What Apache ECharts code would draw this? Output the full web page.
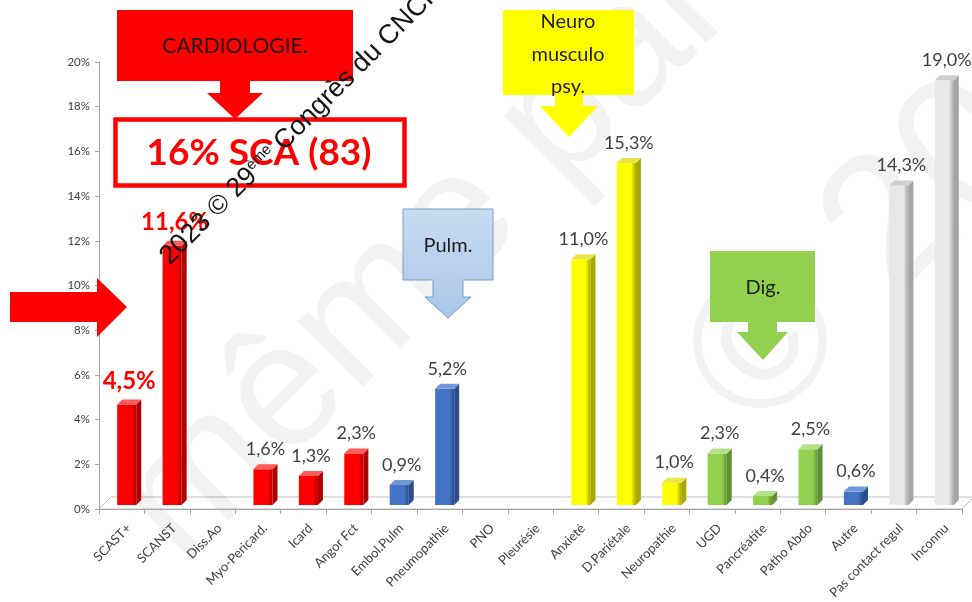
<!DOCTYPE html>
<html>
<head>
<meta charset="utf-8">
<title>Répartition des diagnostics</title>
<script src="https://cdn.jsdelivr.net/npm/echarts@6/dist/echarts.min.js"></script>
<style>
  html, body { margin: 0; padding: 0; background: #ffffff; }
  #chart { width: 972px; height: 602px; }
</style>
</head>
<body>
<div id="chart"></div>
<script>
// Diagnostic categories and their share of cases (%)
const categories = ['SCAST+', 'SCANST', 'Diss.Ao', 'Myo-Pericard.', 'Icard', 'Angor Fct',
  'Embol.Pulm', 'Pneumopathie', 'PNO', 'Pleurésie', 'Anxieté', 'D.Pariétale', 'Neuropathie',
  'UGD', 'Pancréatite', 'Patho Abdo', 'Autre', 'Pas contact regul', 'Inconnu'];
const values = [4.5, 11.6, 0, 1.6, 1.3, 2.3, 0.9, 5.2, 0, 0, 11.0, 15.3, 1.0, 2.3, 0.4, 2.5, 0.6, 14.3, 19.0];
// Specialty group of each category (drives the bar colour)
const groups = ['cardio', 'cardio', 'cardio', 'cardio', 'cardio', 'cardio',
  'pulm', 'pulm', 'pulm', 'pulm', 'neuro', 'neuro', 'neuro',
  'dig', 'dig', 'dig', 'pulm', 'autre', 'autre'];
// Categories whose value label is emphasised
const emphasised = ['SCAST+', 'SCANST'];
// Value axis ticks (%)
const yMin = 0, yMax = 20, yStep = 2;

const palette = {
  cardio: { face: '#ff0000', side: '#b30000', top: '#ff5a5a' },
  pulm:   { face: '#4472c4', side: '#2b4d8c', top: '#7396d6' },
  neuro:  { face: '#ffff00', side: '#a8a800', top: '#e6e64a' },
  dig:    { face: '#92d050', side: '#5f9132', top: '#b5e08a' },
  autre:  { face: '#e8e8e8', side: '#a3a3a3', top: '#cfcfcf' }
};

const grid = { left: 99, right: 10, top: 62, bottom: 93 };
const W = 972, H = 602;
const floorDepth = 12;          // perspective depth of the floor
const barDepth = 5, barLift = 4; // perspective depth of each column

const fmt = v => v.toFixed(1).replace('.', ',') + '%';
const FONT = 'Lato, "Open Sans", sans-serif';
const SANS = '"Liberation Sans", Arial, sans-serif';

const chart = echarts.init(document.getElementById('chart'), null, { renderer: 'canvas' });

function renderColumn(params, api) {
  const i = api.value(0);
  const v = api.value(1);
  if (!v) return null;
  const base = api.coord([i, 0]);
  const top = api.coord([i, v]);
  const band = api.size([1, 0])[0];
  const w = band * 0.42;
  const cx = base[0] + band * 0.11;
  const x0 = cx - w / 2, x1 = cx + w / 2;
  const yb = base[1] - barLift, yt = top[1] - barLift;
  const d = barDepth;
  const col = palette[groups[i]];
  const strong = emphasised.indexOf(categories[i]) >= 0;
  return {
    type: 'group',
    children: [
      { type: 'polygon', shape: { points: [[x1, yt], [x1 + d, yt - d], [x1 + d, yb - d], [x1, yb]] },
        style: { fill: col.side } },
      { type: 'rect', shape: { x: x0, y: yt, width: w, height: yb - yt },
        style: { fill: new echarts.graphic.LinearGradient(0, 0, 1, 0, [
          { offset: 0, color: col.face }, { offset: 0.75, color: col.face }, { offset: 1, color: col.side }]) } },
      { type: 'polygon', shape: { points: [[x0, yt], [x0 + d, yt - d], [x1 + d, yt - d], [x1, yt]] },
        style: { fill: col.top } },
      { type: 'text', x: cx + d / 2, y: yt - d - 6,
        style: {
          text: fmt(v), textAlign: 'center', textVerticalAlign: 'bottom',
          fill: strong ? '#ff0000' : '#404040',
          font: (strong ? 'bold 24px ' : '18px ') + FONT
        } }
    ]
  };
}

// Perspective floor under the columns
const fx0 = grid.left, fx1 = W - grid.right, fy = H - grid.bottom;
const floor = {
  type: 'polyline', z: -1, silent: true,
  shape: { points: [[fx0, fy], [fx1, fy], [fx1 + floorDepth, fy - floorDepth], [fx0 + floorDepth, fy - floorDepth], [fx0, fy]] },
  style: { stroke: '#bfbfbf', lineWidth: 1, fill: null }
};

const calloutText = (x, y, text, size) => ({
  type: 'text', x: x, y: y, z: 20,
  style: { text: text, textAlign: 'center', textVerticalAlign: 'middle', fill: '#1e1e1e', font: size + 'px ' + FONT }
});

const annotations = [
  floor,
  // faint background lettering
  { type: 'text', x: 210, y: 595, rotation: Math.PI / 4, z: 0, silent: true,
    style: { text: 'même partielle', textAlign: 'left', textVerticalAlign: 'bottom',
      fill: 'rgba(0,0,0,0.05)', font: '175px ' + SANS } },
  { type: 'text', x: 787, y: 467, rotation: Math.PI / 4, z: 0, silent: true,
    style: { text: '© 2023', textAlign: 'left', textVerticalAlign: 'bottom',
      fill: 'rgba(0,0,0,0.05)', font: '190px ' + SANS } },
  // Cardiology callout
  { type: 'rect', z: 10, shape: { x: 117, y: 10, width: 236, height: 71 }, style: { fill: '#ff0000' } },
  calloutText(235, 46, 'CARDIOLOGIE.', 21),
  { type: 'polygon', z: 10, shape: { points: [[220, 80], [250, 80], [250, 93], [263, 93], [235, 119], [207, 93], [220, 93]] },
    style: { fill: '#ff0000' } },
  { type: 'rect', z: 10, shape: { x: 115.5, y: 119.5, width: 289, height: 66 },
    style: { fill: '#ffffff', stroke: '#ff0000', lineWidth: 4.5 } },
  { type: 'text', x: 259, y: 153, z: 20,
    style: { text: '16% SCA (83)', textAlign: 'center', textVerticalAlign: 'middle', fill: '#ff0000', font: 'bold 37px ' + FONT } },
  { type: 'polygon', z: 10, shape: { points: [[10, 292], [97, 292], [97, 278], [127, 307], [97, 337], [97, 322], [10, 322]] },
    style: { fill: '#ff0000' } },
  // Neuro / psy callout
  { type: 'polygon', z: 10, shape: { points: [[555, 94], [583, 94], [583, 106], [598, 106], [569, 137], [540, 106], [555, 106]] },
    style: { fill: '#ffff00' } },
  { type: 'rect', z: 10, shape: { x: 503, y: 10, width: 131, height: 85 }, style: { fill: '#ffff00' } },
  calloutText(568, 22, 'Neuro', 20),
  calloutText(568, 55, 'musculo', 20),
  calloutText(568, 87, 'psy.', 20),
  // Pulmonary callout
  { type: 'polygon', z: 10,
    shape: { points: [[403, 209], [493, 209], [493, 280], [463, 280], [463, 297], [471, 297], [448, 318], [425, 297], [433, 297], [433, 280], [403, 280]] },
    style: { fill: new echarts.graphic.LinearGradient(0, 0, 0, 1, [{ offset: 0, color: '#c8dcf2' }, { offset: 1, color: '#aac6e8' }]),
      stroke: '#7e9cc6', lineWidth: 1 } },
  calloutText(448, 246, 'Pulm.', 20),
  // Digestive callout
  { type: 'polygon', z: 10,
    shape: { points: [[710, 251], [815, 251], [815, 322], [777, 322], [777, 332], [788, 332], [763, 360], [737, 332], [748, 332], [748, 322], [710, 322]] },
    style: { fill: '#92d050' } },
  calloutText(763, 288, 'Dig.', 20),
  // Copyright line
  { type: 'text', x: 174, y: 270, rotation: Math.PI / 4, z: 30, silent: true,
    style: {
      text: '2023 © 29{sup|ème} Congrès du CNCH', textAlign: 'left', textVerticalAlign: 'bottom',
      fill: '#151515', font: '27px ' + SANS,
      rich: { sup: { fontSize: 15, verticalAlign: 'top', padding: [0, 0, 12, 0], fill: '#151515', fontFamily: SANS } }
    } }
];

chart.setOption({
  backgroundColor: '#ffffff',
  animation: false,
  grid: { left: grid.left, right: grid.right, top: grid.top, bottom: grid.bottom, containLabel: false },
  xAxis: {
    type: 'category',
    data: categories,
    boundaryGap: true,
    axisLine: { show: true, lineStyle: { color: '#a6a6a6', width: 1 } },
    axisTick: { show: true, length: 5, lineStyle: { color: '#a6a6a6' } },
    axisLabel: {
      interval: 0, rotate: 45, margin: 10,
      formatter: name => '{c|' + name + '}',
      rich: { c: { fontSize: 13, color: '#404040', fontFamily: FONT, padding: [20, 0, 0, 0] } }
    }
  },
  yAxis: {
    type: 'value',
    min: yMin, max: yMax, interval: yStep,
    axisLine: { show: true, lineStyle: { color: '#a6a6a6', width: 1 } },
    axisTick: { show: true, length: 4, lineStyle: { color: '#a6a6a6' } },
    splitLine: { show: false },
    axisLabel: { formatter: '{value}%', fontSize: 11.5, color: '#404040', margin: 9, fontFamily: FONT }
  },
  graphic: { elements: annotations },
  series: [{
    type: 'custom',
    renderItem: renderColumn,
    data: values.map((v, i) => [i, v]),
    encode: { x: 0, y: 1 },
    clip: false,
    z: 5
  }]
});
</script>
</body>
</html>
